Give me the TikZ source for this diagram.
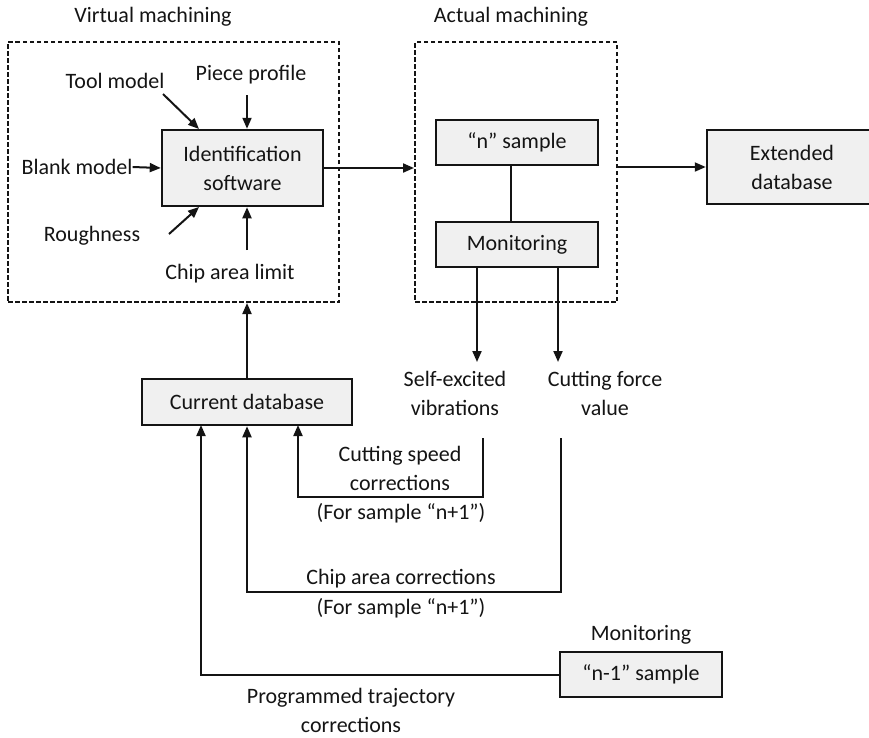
\documentclass[tikz,border=0pt]{standalone}
\usepackage{fontspec}
\setmainfont{Carlito}
\usetikzlibrary{arrows.meta,calc}
\definecolor{boxfill}{RGB}{240,240,240}
\definecolor{ink}{RGB}{20,20,20}
\tikzset{
  txt/.style={font=\fontsize{22}{29}\selectfont, text=ink, align=center, inner sep=0pt},
  bx/.style={txt, draw=ink, line width=2.5pt, fill=boxfill, minimum width=#1},
  dbox/.style={draw=ink, line width=2pt, dash pattern=on 4.5pt off 2.5pt, inner sep=0pt},
  arr/.style={draw=ink, line width=2pt, -{Triangle[length=11pt,width=9pt]}},
  ln/.style={draw=ink, line width=2pt},
}
\begin{document}
\begin{tikzpicture}[x=1pt,y=-1pt]
\useasboundingbox (0,0) rectangle (869,737);
\clip (0,0) rectangle (869,737);
% containers
\node[dbox, minimum width=331pt, minimum height=260pt] (vbox) at (173.5,172) {};
\node[dbox, minimum width=202pt, minimum height=260pt] (abox) at (516,172) {};
\node[txt] (vmlab) at (153,17) {Virtual machining};
\node[txt] (amlab) at (511,17) {Actual machining};
% boxes
\node[bx=161pt, minimum height=76pt] (ident) at (242.5,168) {Identification\\software};
\node[bx=162pt, minimum height=45pt] (nsample) at (517,142.5) {“n” sample};
\node[bx=162pt, minimum height=45pt] (monit) at (517,244.5) {Monitoring};
\node[bx=170pt, minimum height=74pt] (ext) at (792,167) {Extended\\database};
\node[bx=210pt, minimum height=46pt] (curdb) at (247,402) {Current database};
\node[bx=162pt, minimum height=45pt] (nm1) at (641,674.5) {“n-1” sample};
% labels
\node[txt] (tool) at (115,81) {Tool model};
\node[txt] (piece) at (251,75) {Piece profile};
\node[txt] (blank) at (77,167) {Blank model};
\node[txt] (rough) at (92,236) {Roughness};
\node[txt] (chiplim) at (230,274) {Chip area limit};
\node[txt] (self) at (455,393.5) {Self-excited\\vibrations};
\node[txt] (force) at (605,393.5) {Cutting force\\value};
\node[txt] (speedtxt) at (400,468.5) {Cutting speed\\corrections};
\node[txt] (for1) at (401,513) {(For sample “n+1”)};
\node[txt] (chiptxt) at (401,579) {Chip area corrections};
\node[txt] (for2) at (401,608) {(For sample “n+1”)};
\node[txt] (mon2) at (641,635) {Monitoring};
\node[txt] (prog) at (351,710) {Programmed trajectory\\corrections};
% coordinates for free ends
\coordinate (toolS) at (163,94);
\coordinate (toolE) at (199,129);
\coordinate (pieceS) at (247,95);
\coordinate (roughS) at (169,234);
\coordinate (roughE) at (199,207);
\coordinate (chipS) at (247,250);
\coordinate (selfE) at (477,362);
\coordinate (forceE) at (558,362);
\coordinate (speedS) at (483,438);
\coordinate (chipcS) at (561,438);
% input arrows
\draw[arr] (toolS) -- (toolE);
\draw[arr] (pieceS) -- (pieceS |- ident.north);
\draw[arr] (blank.east) -- (ident.west);
\draw[arr] (roughS) -- (roughE);
\draw[arr] (chipS) -- (chipS |- ident.south);
% main flow
\draw[arr] (ident.east) -- (ident.east -| abox.west);
\draw[arr] (abox.east |- ext.west) -- (ext.west);
\draw[ln] ($(nsample.south)+(-6,0)$) -- ($(monit.north)+(-6,0)$);
\draw[arr] (selfE |- monit.south) -- (selfE);
\draw[arr] (forceE |- monit.south) -- (forceE);
\draw[arr] (curdb.north) -- (curdb.north |- vbox.south);
% feedback loops
\draw[arr] (speedS) -- (483,497) -- (298,497) -- (298,425);
\draw[arr] (chipcS) -- (561,592) -- (247,592) -- (curdb.south);
\draw[arr] (nm1.west) -- (201,674.5) -- (201,425);
\end{tikzpicture}
\end{document}
